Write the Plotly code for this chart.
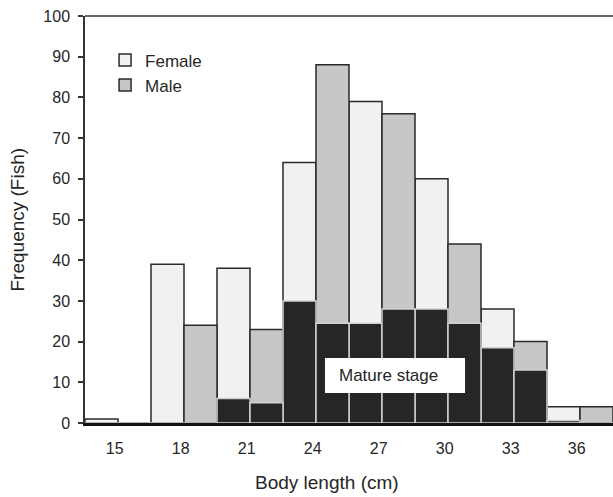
import plotly.graph_objects as go

# Data
categories = [15, 18, 21, 24, 27, 30, 33, 36]
female = [1, 39, 38, 64, 79, 60, 28, 4]
male = [0, 24, 23, 88, 76, 44, 20, 4]
mature_female = [0, 0, 6, 30, 24.5, 28, 18.5, 0.6]
mature_male = [0, 0, 5, 24.5, 28, 24.5, 13, 0]
y_ticks = list(range(0, 101, 10))

FONT = "Liberation Sans, Arial, sans-serif"
TXT = "#262626"

idx = list(range(len(categories)))
xf = [i + 0.25 for i in idx]
xm = [i + 0.75 for i in idx]
xlab = [i + 0.45 for i in idx]

fig = go.Figure()
fig.add_trace(go.Bar(x=xf, y=female, width=0.5, name="Female",
                     marker=dict(color="#f0f1f3", line=dict(color="#2a2a2a", width=1.5))))
fig.add_trace(go.Bar(x=xm, y=male, width=0.5, name="Male",
                     marker=dict(color="#c6c7c9", line=dict(color="#2a2a2a", width=1.5))))
fig.add_trace(go.Bar(x=xf, y=mature_female, width=0.5, showlegend=False,
                     marker=dict(color="#262626", line=dict(color="#d2d2d2", width=1.5))))
fig.add_trace(go.Bar(x=xm, y=mature_male, width=0.5, showlegend=False,
                     marker=dict(color="#262626", line=dict(color="#d2d2d2", width=1.5))))

fig.update_layout(
    width=613, height=497,
    margin=dict(l=85, r=0, t=16, b=74, autoexpand=False),
    paper_bgcolor="white", plot_bgcolor="white",
    barmode="overlay",
    font=dict(family=FONT, color=TXT, size=16),
    xaxis=dict(range=[0, 8], tickvals=xlab, ticktext=[str(c) for c in categories],
               ticks="outside", ticklen=9, tickcolor="rgba(0,0,0,0)",
               showgrid=False, zeroline=False, automargin=False,
               showline=True, linecolor="#111111", linewidth=3,
               tickfont=dict(family=FONT, size=16, color=TXT)),
    yaxis=dict(range=[0, 100], tickvals=y_ticks, ticks="outside", ticklen=5, tickwidth=1.5,
               tickcolor="#333333", showline=True, linecolor="#333333", linewidth=1.5,
               showgrid=False, zeroline=False, ticklabelstandoff=5, automargin=False,
               tickfont=dict(family=FONT, size=16, color=TXT)),
    legend=dict(x=0.038, y=0.935, xanchor="left", yanchor="top", bgcolor="rgba(0,0,0,0)",
                font=dict(family=FONT, size=17, color=TXT), tracegroupgap=0),
    showlegend=True,
)

# top frame line
fig.add_shape(type="line", xref="paper", yref="paper", x0=0, x1=1, y0=1, y1=1,
              line=dict(color="#333333", width=1.5))
# white label box
fig.add_shape(type="rect", xref="x", yref="y", x0=3.636, x1=5.758, y0=7.37, y1=15.97,
              fillcolor="white", line=dict(width=0), layer="above")
fig.add_annotation(x=3.818, y=11.7, xref="x", yref="y", text="Mature stage", showarrow=False,
                   xanchor="left", yanchor="middle", font=dict(family=FONT, size=17, color=TXT))

# axis titles
fig.add_annotation(x=(327 - 85) / 528, y=(423 - 482) / 407, xref="paper", yref="paper",
                   text="Body length (cm)", showarrow=False, xanchor="center", yanchor="middle",
                   font=dict(family=FONT, size=19, color=TXT))
fig.add_annotation(x=(17 - 85) / 528, y=0.5, xref="paper", yref="paper",
                   text="Frequency (Fish)", showarrow=False, textangle=-90,
                   xanchor="center", yanchor="middle", font=dict(family=FONT, size=19, color=TXT))

fig.write_html("out.html")
